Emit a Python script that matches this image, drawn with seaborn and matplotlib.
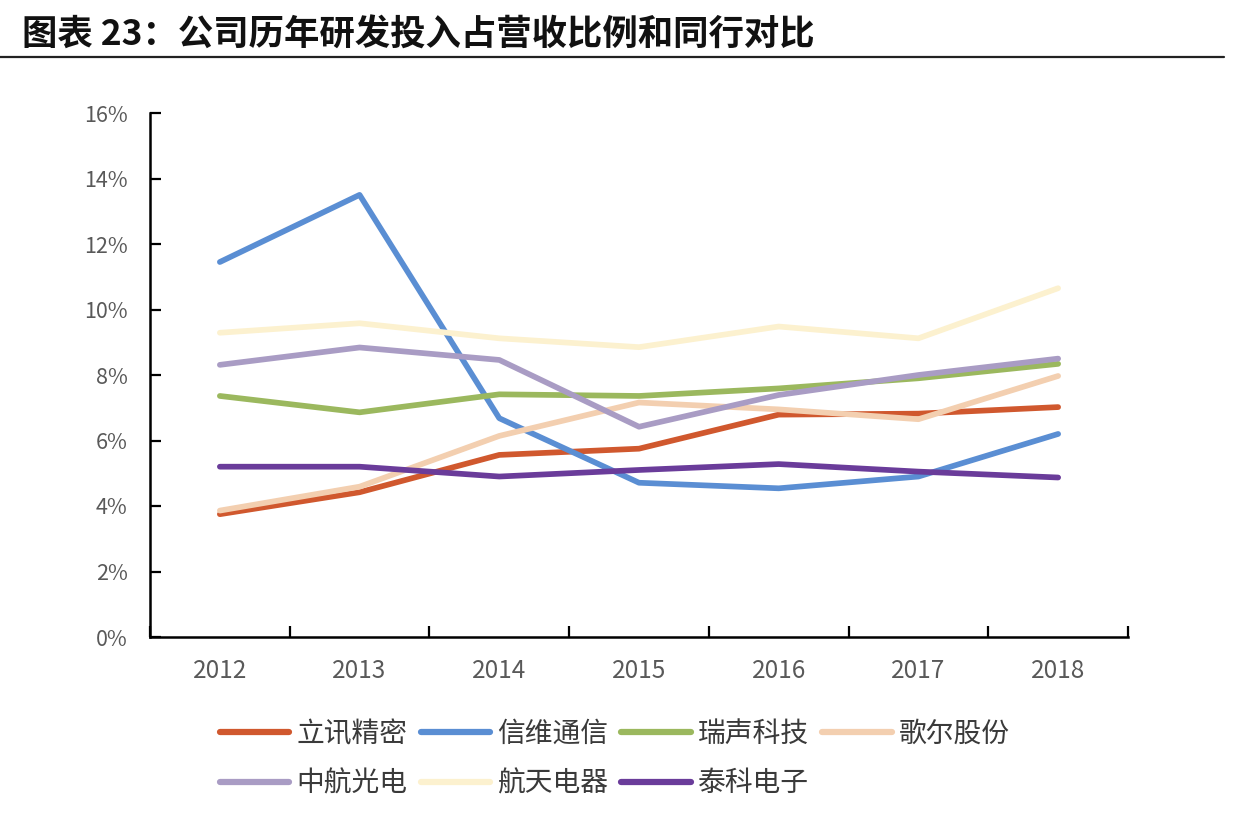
import matplotlib
matplotlib.use("Agg")
import matplotlib.pyplot as plt
import seaborn as sns
import pandas as pd
from matplotlib.lines import Line2D
from matplotlib.ticker import FuncFormatter, FixedLocator

# data (R&D spend as % of revenue)
years = [2012, 2013, 2014, 2015, 2016, 2017, 2018]
companies = ["立讯精密", "信维通信", "瑞声科技", "歌尔股份", "中航光电", "航天电器", "泰科电子"]
luxshare = [3.75, 4.42, 5.56, 5.75, 6.79, 6.82, 7.02]
sunway = [11.45, 13.5, 6.68, 4.71, 4.54, 4.90, 6.20]
aac = [7.36, 6.86, 7.41, 7.36, 7.59, 7.90, 8.34]
goertek = [3.86, 4.59, 6.14, 7.16, 6.95, 6.65, 7.97]
avic = [8.31, 8.84, 8.46, 6.42, 7.39, 8.00, 8.50]
aerospace = [9.29, 9.58, 9.12, 8.85, 9.48, 9.12, 10.65]
te = [5.20, 5.20, 4.90, 5.10, 5.28, 5.05, 4.87]

colors = ["#D0582E", "#5A8ED3", "#9BB85E", "#F3CFB0", "#A99CC4", "#FCF1CF", "#6A3C9A"]

series = [luxshare, sunway, aac, goertek, avic, aerospace, te]
df = pd.DataFrame({
    "year": years * len(companies),
    "company": [c for c in companies for _ in years],
    "value": [v for s in series for v in s],
})

sns.set_style("white")
plt.rcParams["font.family"] = ["Noto Sans CJK SC", "DejaVu Sans"]

fig = plt.figure(figsize=(12.34, 8.38), dpi=100)
ax = fig.add_axes([150 / 1234, 1 - 637 / 838, (1128 - 150) / 1234, (637 - 113) / 838])

sns.lineplot(data=df, x="year", y="value", hue="company", hue_order=companies,
             palette=colors, linewidth=4.1, sort=False, legend=False, ax=ax)
for ln in ax.get_lines():
    ln.set_solid_capstyle("round")
    ln.set_solid_joinstyle("round")

ax.set_xlim(2011.5, 2018.5)
ax.set_ylim(0, 16)
ax.set_xlabel("")
ax.set_ylabel("")

ax.set_yticks(range(0, 17, 2))
ax.yaxis.set_major_formatter(FuncFormatter(lambda v, p: f"{v:.0f}%"))
ax.set_xticks(years)
ax.set_xticklabels([str(y) for y in years])
ax.xaxis.set_minor_locator(FixedLocator([y + 0.5 for y in range(2011, 2019)]))

ax.tick_params(axis="y", direction="in", length=8, width=1.6, color="black",
               labelsize=15.5, labelcolor="#595959", pad=16, left=True)
ax.tick_params(axis="x", which="major", length=0, labelsize=17.5,
               labelcolor="#595959", pad=15)
ax.tick_params(axis="x", which="minor", direction="in", length=8, width=1.6,
               color="black", bottom=True)

for side in ("top", "right"):
    ax.spines[side].set_visible(False)
for side in ("left", "bottom"):
    ax.spines[side].set_color("black")
    ax.spines[side].set_linewidth(1.8)

# title and rule
fig.text(22 / 1234, 1 - 35 / 838, "图表 23：公司历年研发投入占营收比例和同行对比",
         fontsize=25.5, fontweight="bold", color="#111111", va="center", ha="left")
fig.add_artist(Line2D([0, 1224 / 1234], [1 - 57 / 838, 1 - 57 / 838],
                      color="#222222", linewidth=1.6, transform=fig.transFigure))

# legend: two rows, reorder so column-major filling gives the reference rows
handles = [Line2D([], [], color=c, linewidth=4.5, solid_capstyle="round") for c in colors]
order = [0, 4, 1, 5, 2, 6, 3]
fig.legend([handles[i] for i in order], [companies[i] for i in order],
           loc="upper left", bbox_to_anchor=(220 / 1234, 1 - 719 / 838),
           ncol=4, frameon=False, fontsize=20, handlelength=2.5,
           handletextpad=0.25, columnspacing=0.48, labelspacing=0.7,
           labelcolor="#3A3A3A", borderaxespad=0, borderpad=0)

fig.savefig("out.png", dpi=100, facecolor="white")
